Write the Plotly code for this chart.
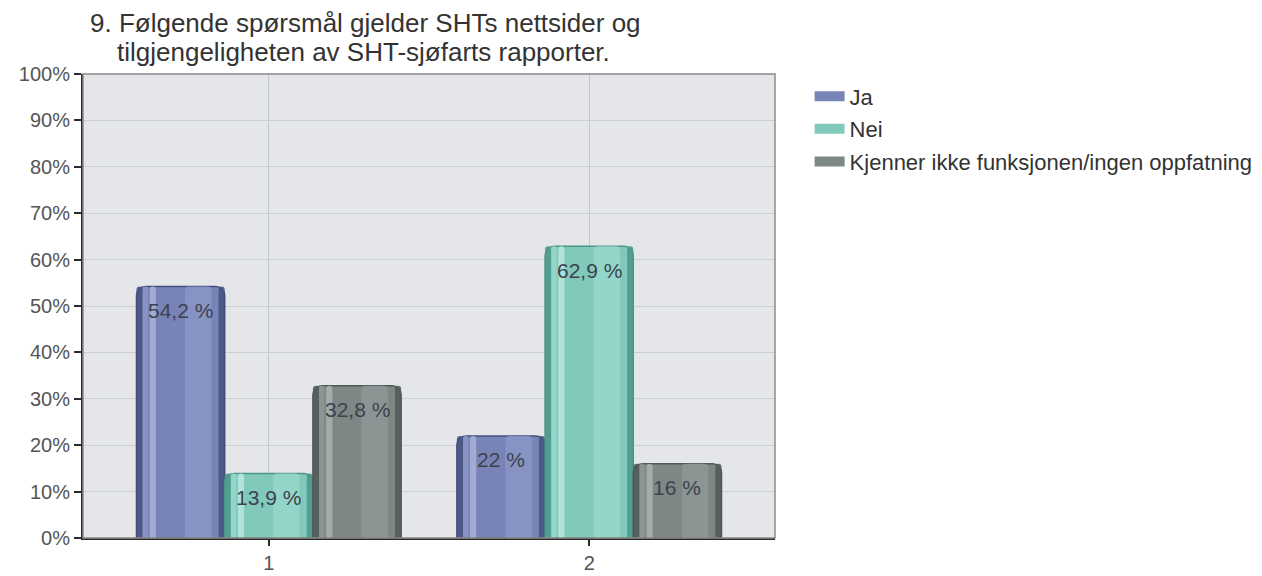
import plotly.graph_objects as go

# ---- data ----
categories = [1, 2]
category_labels = ["1", "2"]
series_names = ["Ja", "Nei", "Kjenner ikke funksjonen/ingen oppfatning"]
ja_values = [54.2, 22.0]
nei_values = [13.9, 62.9]
kjenner_values = [32.8, 16.0]
y_ticks = [0, 10, 20, 30, 40, 50, 60, 70, 80, 90, 100]
title_lines = ["9. Følgende spørsmål gjelder SHTs nettsider og",
               "tilgjengeligheten av SHT-sjøfarts rapporter."]

series_values = [ja_values, nei_values, kjenner_values]

# ---- styles ----
FONT = "Liberation Sans, Arial, sans-serif"
palettes = [
    dict(dark="#45507e", main="#7884b6", light="#a9b2d8", right="#8a96c6"),
    dict(dark="#4a9788", main="#80c9bb", light="#b8e8de", right="#97d7ca"),
    dict(dark="#4f5957", main="#7d8784", light="#aab2af", right="#8e9895"),
]
group_width = 0.826
bw = group_width / 3


def fmt(v):
    s = f"{v:g}".replace(".", ",")
    return s + " %"


fig = go.Figure()

for i, (name, vals) in enumerate(zip(series_names, series_values)):
    p = palettes[i]
    off = -group_width / 2 + i * bw
    # base (edge) layer
    fig.add_trace(go.Bar(
        x=categories, y=vals, name=name, legendgroup=name,
        offset=off, width=bw,
        marker=dict(color=p["main"], cornerradius=9,
                    line=dict(color=p["dark"], width=1.5)),
        hoverinfo="skip", showlegend=False,
    ))
    # shading layers
    layers = [
        (0.0, 0.07, p["dark"]),
        (0.93, 0.07, p["dark"]),
        (0.07, 0.06, p["right"]),
        (0.15, 0.07, p["light"]),
        (0.55, 0.30, p["right"]),
    ]
    for lo, lw, col in layers:
        fig.add_trace(go.Bar(
            x=categories, y=vals, legendgroup=name,
            offset=off + lo * bw, width=lw * bw,
            marker=dict(color=col, cornerradius=4, line=dict(width=0)),
            opacity=0.85,
            hoverinfo="skip", showlegend=False,
        ))

# legend keys (wide swatches)
for i, name in enumerate(series_names):
    fig.add_trace(go.Scatter(
        x=[None], y=[None], mode="lines", name=name, legendgroup=name,
        line=dict(color=palettes[i]["main"], width=14),
        showlegend=True, hoverinfo="skip",
    ))

# value labels
annotations = []
for i, vals in enumerate(series_values):
    center = -group_width / 2 + (i + 0.5) * bw
    for c, v in zip(categories, vals):
        annotations.append(dict(
            x=c + center, y=v, xref="x", yref="y",
            text=fmt(v), showarrow=False, yshift=-24,
            font=dict(family=FONT, size=21, color="#3c4250"),
        ))

# title lines
annotations.append(dict(x=0.408, y=1.0, xref="paper", yref="paper", yshift=51,
                        text=title_lines[0], showarrow=False,
                        xanchor="center", yanchor="middle",
                        font=dict(family=FONT, size=26, color="#333333")))
annotations.append(dict(x=0.406, y=1.0, xref="paper", yref="paper", yshift=22,
                        text=title_lines[1], showarrow=False,
                        xanchor="center", yanchor="middle",
                        font=dict(family=FONT, size=26, color="#333333")))

fig.update_layout(
    width=1262, height=576,
    margin=dict(l=75, r=489, t=66, b=46),
    paper_bgcolor="white",
    plot_bgcolor="#e4e6ea",
    barmode="overlay",
    font=dict(family=FONT, size=20, color="#555555"),
    annotations=annotations,
    showlegend=True,
    legend=dict(x=1.05, y=0.997, xanchor="left", yanchor="top",
                font=dict(family=FONT, size=22, color="#333333"),
                bgcolor="rgba(0,0,0,0)", tracegroupgap=1),
    shapes=[dict(type="rect", xref="paper", yref="paper", x0=0, y0=0, x1=1, y1=1,
                 line=dict(color="#8a8a8a", width=1.5), layer="above")],
)

fig.update_xaxes(
    range=[0.42, 2.58], tickvals=categories, ticktext=category_labels,
    showgrid=True, gridcolor="#c3c7cc", gridwidth=1,
    showline=True, linecolor="#2b2b2b", linewidth=2,
    ticks="outside", ticklen=6, tickcolor="#2b2b2b", tickwidth=1.5,
    tickfont=dict(family=FONT, size=20, color="#555555"),
    zeroline=False, automargin=False,
)
fig.update_yaxes(
    range=[0, 100], tickvals=y_ticks, ticktext=[f"{t}%" for t in y_ticks],
    showgrid=True, gridcolor="#cbced3", gridwidth=1,
    showline=True, linecolor="#2b2b2b", linewidth=2,
    ticks="outside", ticklen=7, tickcolor="#2b2b2b", tickwidth=1.5,
    tickfont=dict(family=FONT, size=20, color="#555555"),
    zeroline=False, automargin=False,
)

fig.write_html("out.html")
